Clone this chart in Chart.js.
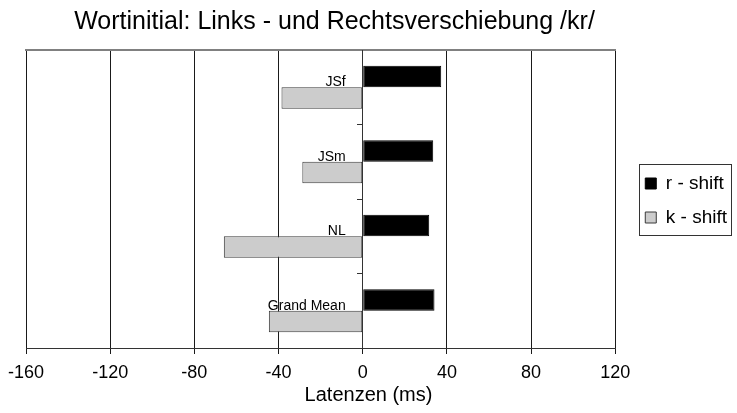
<!DOCTYPE html>
<html><head><meta charset="utf-8">
<script src="https://cdn.jsdelivr.net/npm/chart.js@4/dist/chart.umd.min.js"></script>
<style>html,body{margin:0;padding:0;background:#fff}</style>
</head><body>
<canvas id="c" width="737" height="413"></canvas>
<script>
const chartTitle = "Wortinitial: Links - und Rechtsverschiebung /kr/";
const axisTitle = "Latenzen (ms)";
const categories = ["JSf", "JSm", "NL", "Grand Mean"];
const seriesNames = ["r - shift", "k - shift"];
const rShift = [37.3, 33.5, 31.6, 34.1];
const kShift = [-38.6, -28.7, -66.0, -44.6];
const xTicks = [-160, -120, -80, -40, 0, 40, 80, 120];

const FONT = "'Liberation Sans', Arial, sans-serif";
Chart.defaults.font.family = FONT;
Chart.defaults.color = '#000';

const legendFrame = {
  id: 'legendFrame',
  afterDraw(chart) {
    const lg = chart.legend;
    if (!lg || !lg.legendHitBoxes || !lg.legendHitBoxes.length) return;
    let l = Infinity, t = Infinity, r = -Infinity, b = -Infinity;
    lg.legendHitBoxes.forEach(h => {
      l = Math.min(l, h.left); t = Math.min(t, h.top);
      r = Math.max(r, h.left + h.width); b = Math.max(b, h.top + h.height);
    });
    const ctx = chart.ctx;
    ctx.save();
    ctx.strokeStyle = '#333';
    ctx.lineWidth = 1;
    ctx.strokeRect(Math.round(l - 6) + 0.5, Math.round(t - 10) + 0.5, Math.round(r - l + 10), Math.round(b - t + 18));
    ctx.restore();
  }
};

new Chart(document.getElementById('c'), {
  type: 'bar',
  data: {
    labels: categories,
    datasets: [
      { label: seriesNames[0], data: rShift, backgroundColor: '#000', borderColor: '#000', borderWidth: 1, borderSkipped: false },
      { label: seriesNames[1], data: kShift, backgroundColor: '#cccccc', borderColor: '#3a3a3a', borderWidth: 1, borderSkipped: false }
    ]
  },
  options: {
    indexAxis: 'y',
    responsive: false,
    animation: false,
    events: [],
    categoryPercentage: 0.576,
    barPercentage: 1,
    layout: { padding: { left: 0, right: 0, top: 0, bottom: 12 } },
    scales: {
      x: {
        type: 'linear',
        min: -160, max: 120,
        afterBuildTicks: s => { s.ticks = xTicks.map(v => ({ value: v })); },
        afterFit: s => { s.paddingLeft = 26; s.height = 38; },
        ticks: { font: { size: 18 }, color: '#000', padding: 8 },
        grid: { color: '#1a1a1a', lineWidth: 1, tickLength: 6, drawTicks: true },
        border: { color: '#333', width: 1 }
      },
      xTop: {
        type: 'linear', position: 'top', display: true,
        min: -160, max: 120,
        ticks: { display: false },
        grid: { display: false, drawTicks: false },
        border: { display: true, color: '#808080', width: 2 }
      },
      y: {
        type: 'category',
        position: { x: 0 },
        offset: true,
        ticks: { display: false },
        grid: { display: true, drawOnChartArea: false, drawTicks: true, tickLength: 5, offset: true, color: '#333' },
        border: { display: true, color: '#333', width: 1 }
      },
      yLabels: {
        type: 'category',
        labels: categories,
        position: { x: -8.1 },
        offset: true,
        ticks: {
          font: { size: 14, lineHeight: 0.7 },
          color: '#000',
          padding: 0,
          callback: (v, i) => [categories[i], '']
        },
        grid: { display: false, drawTicks: false },
        border: { display: false }
      },
      gap: {
        type: 'linear', position: 'right', display: true,
        ticks: { display: false },
        grid: { display: false, drawTicks: false },
        border: { display: false },
        afterFit: s => { s.width = 15; }
      }
    },
    plugins: {
      title: {
        display: true, text: '    ' + chartTitle, fullSize: false,
        font: { size: 25, weight: 'normal' }, color: '#000',
        padding: { top: 7, bottom: 13 }
      },
      subtitle: {
        display: true, text: axisTitle, position: 'bottom', fullSize: true,
        font: { size: 20, weight: 'normal', lineHeight: 0.5 }, color: '#000',
        padding: { top: 4, bottom: 1 }
      },
      legend: {
        position: 'right',
        maxWidth: 115,
        labels: { font: { size: 19 }, color: '#000', boxWidth: 11, boxHeight: 11, padding: 15 }
      },
      tooltip: { enabled: false }
    }
  },
  plugins: [legendFrame]
});
</script>
</body></html>
